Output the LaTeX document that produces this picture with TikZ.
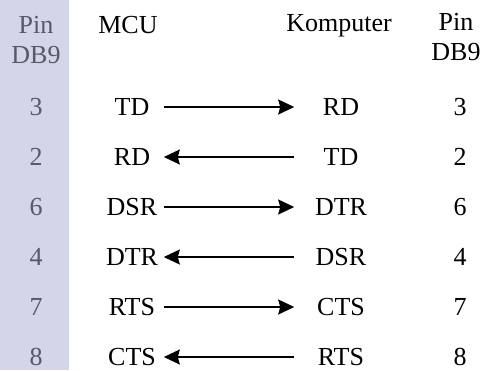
\documentclass[tikz,border=0pt]{standalone}
\usepackage{fontspec}
\setmainfont{Liberation Serif}
\usetikzlibrary{arrows.meta,positioning}
\definecolor{bandblue}{RGB}{211,214,232}
\definecolor{pingray}{RGB}{88,88,104}

\begin{document}
\begin{tikzpicture}[>={Stealth[length=16pt,width=15pt,inset=2pt]},line width=1.6pt,x=1pt,y=-1pt,node distance=50pt,on grid]
\tikzset{every node/.append style={font=\fontsize{26}{30}\selectfont,inner sep=0pt}}
\tikzset{pinno/.style={text=pingray},sig/.style={minimum width=62pt},ksig/.style={minimum width=92pt}}

\useasboundingbox (0,0) rectangle (485,370);
\fill[bandblue] (0,0) rectangle (69,370);

\node[pinno,align=center]	(hl)	at (36,40.3)	{Pin\\DB9};
\node				(hm)	at (128,25)	{MCU};
\node[anchor=base]		(hk)	at (339,31.7)	{Komputer};
\node[align=center]		(hr)	at (456,37.5)	{Pin\\DB9};

\node[pinno]	(a1)	at (36,107)	{3};
\node[pinno]	(a2)	[below of=a1]	{2};
\node[pinno]	(a3)	[below of=a2]	{6};
\node[pinno]	(a4)	[below of=a3]	{4};
\node[pinno]	(a5)	[below of=a4]	{7};
\node[pinno]	(a6)	[below of=a5]	{8};

\node[sig]	(m1)	[right=96pt of a1]	{TD};
\node[sig]	(m2)	[right=96pt of a2]	{RD};
\node[sig]	(m3)	[right=96pt of a3]	{DSR};
\node[sig]	(m4)	[right=96pt of a4]	{DTR};
\node[sig]	(m5)	[right=96pt of a5]	{RTS};
\node[sig]	(m6)	[right=96pt of a6]	{CTS};

\node[ksig]	(k1)	[right=209pt of m1]	{RD};
\node[ksig]	(k2)	[right=209pt of m2]	{TD};
\node[ksig]	(k3)	[right=209pt of m3]	{DTR};
\node[ksig]	(k4)	[right=209pt of m4]	{DSR};
\node[ksig]	(k5)	[right=209pt of m5]	{CTS};
\node[ksig]	(k6)	[right=209pt of m6]	{RTS};

\node	(b1)	[right=119pt of k1]	{3};
\node	(b2)	[right=119pt of k2]	{2};
\node	(b3)	[right=119pt of k3]	{6};
\node	(b4)	[right=119pt of k4]	{4};
\node	(b5)	[right=119pt of k5]	{7};
\node	(b6)	[right=119pt of k6]	{8};

\path[->]	(m1)	edge	(k1)
		(k2)	edge	(m2)
		(m3)	edge	(k3)
		(k4)	edge	(m4)
		(m5)	edge	(k5)
		(k6)	edge	(m6);
\end{tikzpicture}
\end{document}
